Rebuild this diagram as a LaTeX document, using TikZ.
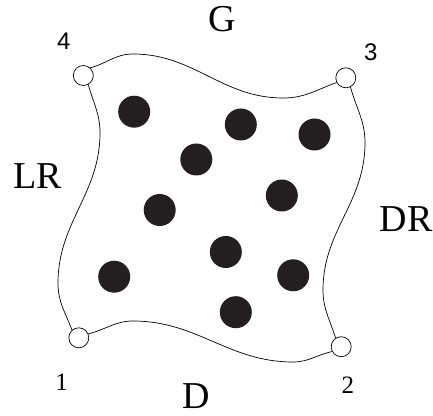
\documentclass[tikz,border=0pt]{standalone}
\usepackage{fontspec}
\setmainfont{Liberation Serif}
\newfontfamily\numsans{Liberation Sans}
\definecolor{dotcol}{HTML}{231F20}
\begin{document}
\begin{tikzpicture}[x=1pt,y=1pt,
  corner/.style={circle,draw,line width=0.7pt,fill=white,minimum size=20pt,inner sep=0pt},
  dot/.style={circle,fill=dotcol,minimum size=32pt,inner sep=0pt},
  edgeline/.style={line width=0.7pt},
  biglbl/.style={anchor=base,inner sep=0pt,font=\fontsize{38}{40}\selectfont},
  numser/.style={anchor=base,inner sep=0pt,font=\fontsize{25}{27}\selectfont},
  numsan/.style={anchor=base,inner sep=0pt,font=\numsans\fontsize{24}{26}\selectfont}]
\useasboundingbox (0,0) rectangle (433,415);

% corner circles
\node[corner] (c4) at (83.3,339.5) {};
\node[corner] (c3) at (345.8,337.2) {};
\node[corner] (c1) at (78.8,77.2) {};
\node[corner] (c2) at (341.2,68.3) {};

% helper points of the wavy sides
\coordinate (tp) at (133,361);
\coordinate (tt) at (283,317);
\coordinate (L1) at (100,282);
\coordinate (L2) at (58,132);
\coordinate (R1) at (365,272);
\coordinate (R2) at (323,125);
\coordinate (bp) at (133,94);
\coordinate (bt) at (293,53);

\draw[edgeline] (c4.48) to[out=15,in=180] (tp) to[out=0,in=180] (tt) to[out=0,in=200] (c3.207);
\draw[edgeline] (c4.-61) to[out=-75,in=90] (L1) to[out=-90,in=90] (L2) to[out=-90,in=111] (c1.131);
\draw[edgeline] (c3.-63) to[out=-75,in=90] (R1) to[out=-90,in=90] (R2) to[out=-90,in=107] (c2.123);
\draw[edgeline] (c1.23) to[out=13,in=180] (bp) to[out=0,in=180] (bt) to[out=0,in=192] (c2.208);

% dots
\node[dot] (d1) at (134.2,303.3) {};
\node[dot] (d2) at (240.8,290.5) {};
\node[dot] (d3) at (314.5,280.5) {};
\node[dot] (d4) at (196.3,255.5) {};
\node[dot] (d5) at (281.8,219.5) {};
\node[dot] (d6) at (159.7,205) {};
\node[dot] (d7) at (225.8,163) {};
\node[dot] (d8) at (114.2,138.3) {};
\node[dot] (d9) at (293.2,139.7) {};
\node[dot] (d10) at (235.8,102.8) {};

% labels
\node[biglbl] (lG) at (222.5,383) {G};
\node[biglbl] (lLR) at (38,226.7) {LR};
\node[biglbl] (lDR) at (406,183.3) {DR};
\node[biglbl] (lD) at (196.3,7) {D};

\node[numsan] (n4) at (63.7,365) {4};
\node[numsan] (n3) at (370.8,354.3) {3};
\node[numser] (n1) at (61.7,25) {1};
\node[numser] (n2) at (347.8,21.7) {2};
\end{tikzpicture}
\end{document}
